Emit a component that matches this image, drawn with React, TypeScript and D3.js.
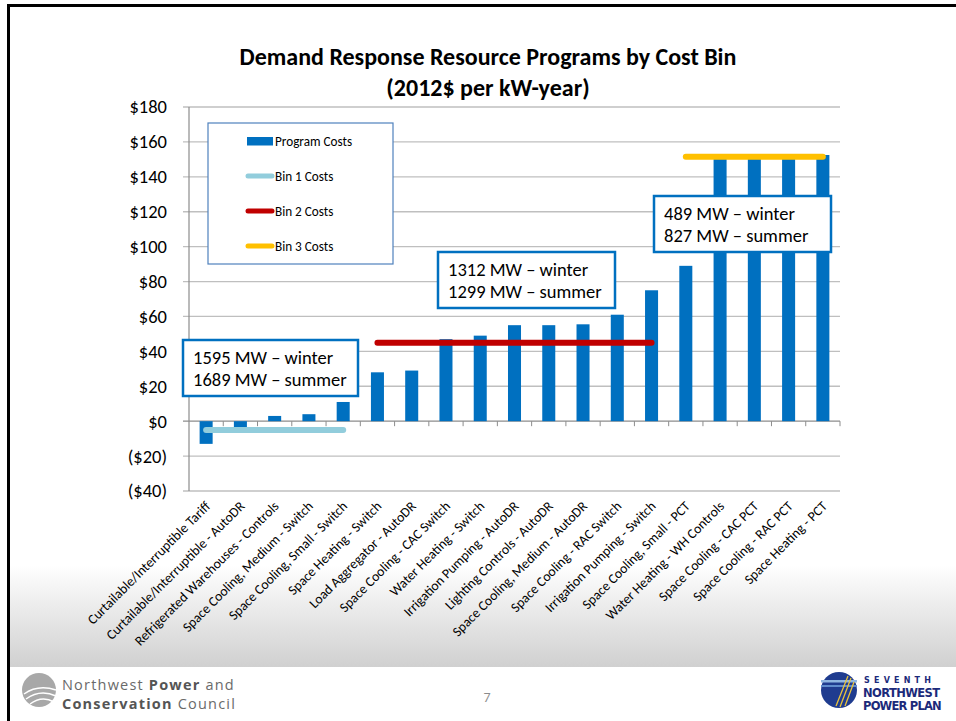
import * as d3 from 'd3'

const width = 956,
      height = 721,
      plot = { left: 189, right: 840, top: 107, bottom: 491 },
      font = 'Carlito, Lato, sans-serif'

const categories = [
  'Curtailable/Interruptible Tariff',
  'Curtailable/Interruptible - AutoDR',
  'Refrigerated Warehouses - Controls',
  'Space Cooling, Medium - Switch',
  'Space Cooling, Small - Switch',
  'Space Heating - Switch',
  'Load Aggregator - AutoDR',
  'Space Cooling - CAC Switch',
  'Water Heating - Switch',
  'Irrigation Pumping - AutoDR',
  'Lighting Controls - AutoDR',
  'Space Cooling, Medium - AutoDR',
  'Space Cooling - RAC Switch',
  'Irrigation Pumping - Switch',
  'Space Cooling, Small - PCT',
  'Water Heating - WH Controls',
  'Space Cooling - CAC PCT',
  'Space Cooling - RAC PCT',
  'Space Heating - PCT'
]

const programCosts = [-13, -4, 3, 4, 11, 28, 29, 47, 49, 55, 55, 55.5, 61, 75, 89, 151, 151, 151, 152.5]

const bin1Costs = [-5, -5, -5, -5, -5, null, null, null, null, null, null, null, null, null, null, null, null, null, null]
const bin2Costs = [null, null, null, null, null, 45, 45, 45, 45, 45, 45, 45, 45, 45, null, null, null, null, null]
const bin3Costs = [null, null, null, null, null, null, null, null, null, null, null, null, null, null, 151.5, 151.5, 151.5, 151.5, 151.5]

const yTicks = [-40, -20, 0, 20, 40, 60, 80, 100, 120, 140, 160, 180]

const legendItems = [
  { label: 'Program Costs', type: 'bar', color: '#0070c0' },
  { label: 'Bin 1 Costs', type: 'line', color: '#92cddc' },
  { label: 'Bin 2 Costs', type: 'line', color: '#c00000' },
  { label: 'Bin 3 Costs', type: 'line', color: '#ffc000' }
]

const binSeries = [
  { values: bin1Costs, color: '#92cddc' },
  { values: bin2Costs, color: '#c00000' },
  { values: bin3Costs, color: '#ffc000' }
]

const callouts = [
  { x: 183, y: 340, w: 175, lines: ['1595 MW – winter', '1689 MW – summer'] },
  { x: 438, y: 252, w: 177, lines: ['1312 MW – winter', '1299 MW – summer'] },
  { x: 654, y: 196, w: 177, lines: ['489 MW – winter', '827 MW – summer'] }
]

const fmt = v => v < 0 ? `($${Math.abs(v)})` : `$${v}`

const Footer = () => (
  <g>
    {/* council logo */}
    <circle cx={39} cy={690} r={17} fill='#a8a8a8' />
    <path d='M24,694 Q38,684 56,690' stroke='#fff' strokeWidth={1.5} fill='none' />
    <path d='M26,699 Q40,689 56,696' stroke='#fff' strokeWidth={1.5} fill='none' />
    <path d='M30,704 Q42,695 54,702' stroke='#fff' strokeWidth={1.5} fill='none' />
    <text x={62} y={690} fontFamily="'Open Sans', sans-serif" fontSize={14.5} letterSpacing={1.2} fill='#6a6a6a'>
      Northwest <tspan fontWeight='bold' fill='#555'>Power</tspan> and
    </text>
    <text x={62} y={709} fontFamily="'Open Sans', sans-serif" fontSize={14.5} letterSpacing={1.2} fill='#6a6a6a'>
      <tspan fontWeight='bold' fill='#555'>Conservation</tspan> Council
    </text>

    <text x={487} y={702} textAnchor='middle' fontFamily={font} fontSize={14} fill='#8c8c8c'>7</text>

    {/* plan logo */}
    <circle cx={839} cy={690} r={18} fill='#1f3c8f' />
    <rect x={821} y={680} width={36} height={2.5} fill='#8fb6e0' />
    <rect x={821} y={685} width={36} height={2} fill='#5f8ccc' />
    <path d='M848,676 L836,706 M851,678 L840,707 M854,682 L845,706' stroke='#e8c33a' strokeWidth={1.3} />
    <text x={864} y={683} fontFamily="'DejaVu Sans', sans-serif" fontWeight='bold' fontSize={8} letterSpacing={4.2} fill='#1c2a7a'>SEVENTH</text>
    <text x={863} y={697} fontFamily="'DejaVu Sans', sans-serif" fontWeight='bold' fontSize={11.5} letterSpacing={-0.6} fill='#1c2a7a'>NORTHWEST</text>
    <text x={863} y={710} fontFamily="'DejaVu Sans', sans-serif" fontWeight='bold' fontSize={11.5} letterSpacing={-0.8} fill='#1c2a7a'>POWER PLAN</text>
  </g>
)

export default function App() {
  const xScale = d3.scaleBand()
    .domain(categories)
    .range([plot.left, plot.right])
    .paddingInner(0.62)
    .paddingOuter(0.31)

  const yScale = d3.scaleLinear()
    .domain([-40, 180])
    .range([plot.bottom, plot.top])

  const center = i => xScale(categories[i]) + xScale.bandwidth() / 2
  const step = xScale.step()

  const binLine = d3.line()
    .defined(d => d != null)
    .x((d, i) => center(i))
    .y(d => yScale(d))

  return (
    <svg width={width} height={height} style={{ position: 'absolute', left: 0, top: 0, background: '#fff' }}>
      <defs>
        <linearGradient id='slideFade' x1='0' y1='0' x2='0' y2='1'>
          <stop offset='0' stopColor='#ffffff' />
          <stop offset='1' stopColor='#d0d0d0' />
        </linearGradient>
      </defs>

      <rect x={10} y={565} width={width - 10} height={102} fill='url(#slideFade)' />
      <path d={`M8.5,${height} V5.5 H${width}`} stroke='#000' strokeWidth={3} fill='none' />

      <text x={488} y={65} textAnchor='middle' fontFamily={font} fontWeight='bold' fontSize={24}>
        Demand Response Resource Programs by Cost Bin
      </text>
      <text x={488} y={96} textAnchor='middle' fontFamily={font} fontWeight='bold' fontSize={24}>
        (2012$ per kW-year)
      </text>

      {/* grid + y axis */}
      <g className='axis left'>
        {yTicks.map(t => (
          <g key={t}>
            <line x1={plot.left - 6} x2={plot.right} y1={yScale(t)} y2={yScale(t)}
              stroke={t === 0 ? '#8c8c8c' : '#bfbfbf'} strokeWidth={1.3} />
            <text x={167} y={yScale(t)} dy='0.35em' textAnchor='end' fontFamily={font} fontSize={18.5} fill='#000'>
              {fmt(t)}
            </text>
          </g>
        ))}
        <line x1={plot.left} x2={plot.left} y1={plot.top} y2={plot.bottom} stroke='#8c8c8c' strokeWidth={1.2} />
      </g>

      {/* category ticks on the zero line */}
      <g className='axis bottom'>
        {categories.map((c, i) => (
          <line key={c} x1={plot.left + step * (i + 1)} x2={plot.left + step * (i + 1)}
            y1={yScale(0)} y2={yScale(0) + 5} stroke='#8c8c8c' strokeWidth={1} />
        ))}
        {categories.map((c, i) => (
          <text key={c} transform={`translate(${center(i) + 5}, 507) rotate(-45)`}
            textAnchor='end' fontFamily={font} fontSize={13.7} fill='#000'>{c}</text>
        ))}
      </g>

      {/* legend */}
      <g className='legend'>
        <rect x={208} y={123} width={185} height={141} fill='#fff' stroke='#4f81bd' strokeWidth={1.2} />
        {legendItems.map((d, i) => {
          const y = 141 + i * 35
          return (
            <g key={d.label}>
              {d.type === 'bar'
                ? <rect x={247} y={y - 4} width={26} height={8.5} fill={d.color} />
                : <line x1={248} x2={272} y1={y} y2={y} stroke={d.color} strokeWidth={5} strokeLinecap='round' />}
              <text x={275} y={y} dy='0.35em' fontFamily={font} fontSize={13.2} fill='#000'>{d.label}</text>
            </g>
          )
        })}
      </g>

      {/* bars */}
      <g className='bars'>
        {programCosts.map((v, i) => (
          <rect key={categories[i]} x={xScale(categories[i])} width={xScale.bandwidth()}
            y={yScale(Math.max(0, v))} height={Math.abs(yScale(v) - yScale(0))} fill='#0070c0' />
        ))}
      </g>

      {/* bin lines */}
      <g className='bins'>
        {binSeries.map(s => (
          <path key={s.color} d={binLine(s.values)} stroke={s.color} strokeWidth={6}
            strokeLinecap='round' fill='none' />
        ))}
      </g>

      {/* callouts */}
      {callouts.map(c => (
        <g key={c.lines[0]}>
          <rect x={c.x} y={c.y} width={c.w} height={56} fill='#fff' stroke='#0070c0' strokeWidth={2.5} />
          {c.lines.map((l, i) => (
            <text key={l} x={c.x + 10} y={c.y + 24 + i * 22} fontFamily={font} fontSize={18.5} fill='#000'>{l}</text>
          ))}
        </g>
      ))}

      <Footer />
    </svg>
  )
}
